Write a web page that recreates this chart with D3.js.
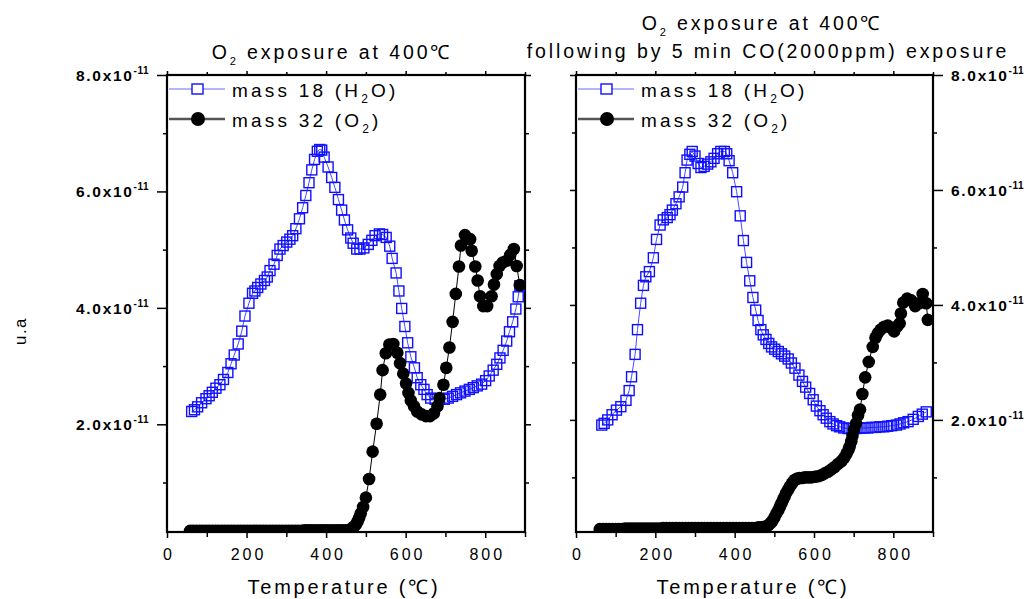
<!DOCTYPE html>
<html><head><meta charset="utf-8">
<script src="https://cdn.jsdelivr.net/npm/d3@7"></script>
<style>
body{margin:0;background:#fff}
svg{display:block}
text{font-family:"Liberation Sans",Arial,Helvetica,sans-serif;fill:#000}
</style>
</head><body>
<svg id="c" width="1030" height="599"></svg>
<script>
// ---------- data (values in units of 1e-11) ----------
const xTickValues = [0, 200, 400, 600, 800];
const xMinorValues = [100, 300, 500, 700, 900];
const yTickValues = [2, 4, 6, 8];
const yMinorValues = [1, 3, 5, 7];
const yTickLabel = "x10";
const yTickExp = "-11";

const leftH2O = [[62,2.22],[69,2.25],[77,2.30],[87,2.37],[98,2.44],[106,2.49],[114,2.55],[123,2.62],[133,2.68],[142,2.77],[153,2.89],[161,3.04],[169,3.19],[179,3.38],[188,3.60],[196,3.86],[206,4.08],[215,4.25],[221,4.29],[228,4.35],[236,4.41],[245,4.47],[252,4.53],[259,4.64],[269,4.75],[277,4.90],[284,5.01],[292,5.07],[301,5.13],[309,5.18],[316,5.24],[324,5.36],[333,5.53],[341,5.72],[349,5.93],[357,6.15],[364,6.37],[371,6.55],[378,6.69],[384,6.72],[389,6.71],[395,6.59],[405,6.42],[414,6.24],[422,6.07],[431,5.86],[439,5.68],[446,5.51],[454,5.34],[462,5.20],[468,5.11],[477,5.01],[485,5.01],[495,5.03],[506,5.09],[515,5.16],[523,5.24],[534,5.27],[542,5.26],[551,5.21],[560,5.06],[566,4.85],[576,4.60],[583,4.29],[590,3.99],[598,3.68],[605,3.40],[613,3.16],[622,2.97],[629,2.80],[638,2.68],[646,2.60],[654,2.51],[663,2.45],[674,2.43],[685,2.43],[697,2.43],[707,2.45],[718,2.48],[728,2.51],[738,2.54],[749,2.57],[760,2.60],[770,2.63],[780,2.66],[791,2.69],[801,2.75],[810,2.83],[820,2.93],[829,3.03],[837,3.14],[845,3.27],[854,3.43],[861,3.59],[869,3.76],[877,3.98],[883,4.19],[887,4.38]];

const leftO2 = [[58,0.17],[66,0.17],[74,0.17],[82,0.17],[90,0.17],[98,0.17],[106,0.17],[114,0.17],[122,0.17],[130,0.17],[138,0.17],[146,0.17],[154,0.17],[162,0.17],[170,0.17],[178,0.17],[186,0.17],[194,0.17],[202,0.17],[210,0.17],[218,0.17],[226,0.17],[234,0.17],[242,0.17],[250,0.17],[258,0.17],[266,0.17],[274,0.17],[282,0.17],[290,0.17],[298,0.17],[306,0.17],[314,0.17],[322,0.17],[330,0.17],[338,0.17],[346,0.18],[354,0.18],[362,0.18],[370,0.18],[378,0.18],[386,0.18],[394,0.18],[402,0.18],[410,0.18],[418,0.18],[426,0.18],[434,0.18],[442,0.18],[450,0.18],[456,0.18],[460,0.19],[465,0.21],[470,0.24],[475,0.28],[479,0.33],[483,0.39],[487,0.47],[493,0.58],[500,0.74],[508,1.06],[517,1.53],[527,2.01],[536,2.51],[542,2.93],[550,3.22],[559,3.37],[569,3.38],[579,3.23],[586,3.05],[594,2.87],[601,2.70],[607,2.54],[613,2.41],[621,2.31],[629,2.22],[640,2.17],[651,2.14],[661,2.14],[671,2.19],[680,2.31],[685,2.45],[695,2.68],[702,2.97],[710,3.32],[718,3.76],[726,4.24],[734,4.71],[739,5.07],[749,5.25],[762,5.18],[766,4.98],[775,4.71],[781,4.47],[787,4.20],[795,4.03],[805,4.03],[816,4.20],[822,4.40],[829,4.58],[836,4.72],[844,4.78],[854,4.81],[863,4.91],[872,5.01],[879,4.72],[887,4.39]];

const rightH2O = [[65,1.91],[71,1.94],[80,2.00],[91,2.09],[102,2.17],[113,2.23],[126,2.34],[134,2.51],[140,2.75],[149,3.14],[155,3.57],[163,4.03],[170,4.34],[176,4.49],[185,4.58],[195,4.82],[203,5.14],[212,5.39],[220,5.48],[230,5.52],[237,5.57],[243,5.65],[252,5.76],[260,5.88],[269,6.05],[275,6.30],[280,6.52],[287,6.62],[293,6.67],[300,6.59],[308,6.46],[315,6.39],[323,6.41],[332,6.45],[340,6.49],[348,6.55],[357,6.63],[365,6.67],[374,6.67],[380,6.63],[386,6.51],[395,6.30],[405,5.97],[414,5.55],[422,5.12],[430,4.74],[438,4.42],[446,4.13],[453,3.91],[459,3.73],[466,3.57],[472,3.48],[479,3.40],[486,3.33],[493,3.27],[501,3.23],[510,3.19],[518,3.15],[526,3.11],[535,3.06],[543,2.99],[552,2.90],[562,2.78],[571,2.67],[579,2.57],[589,2.46],[598,2.35],[606,2.24],[615,2.16],[623,2.09],[631,2.03],[640,1.97],[648,1.93],[657,1.90],[665,1.88],[675,1.86],[686,1.85],[696,1.85],[706,1.85],[716,1.86],[726,1.86],[736,1.86],[746,1.87],[756,1.87],[766,1.88],[776,1.88],[786,1.89],[796,1.90],[808,1.91],[817,1.93],[826,1.95],[837,1.97],[850,2.01],[863,2.06],[873,2.10],[883,2.14]];

const rightO2 = [[60,0.10],[68,0.10],[76,0.10],[84,0.10],[92,0.10],[100,0.10],[108,0.10],[116,0.10],[124,0.11],[132,0.11],[140,0.11],[148,0.11],[156,0.11],[164,0.11],[172,0.11],[180,0.11],[188,0.11],[196,0.11],[204,0.11],[212,0.11],[220,0.12],[228,0.12],[236,0.12],[244,0.12],[252,0.12],[260,0.12],[268,0.12],[276,0.12],[284,0.12],[292,0.12],[300,0.12],[308,0.12],[316,0.12],[324,0.12],[332,0.12],[340,0.12],[348,0.12],[356,0.12],[364,0.12],[372,0.12],[380,0.12],[388,0.12],[396,0.12],[404,0.12],[412,0.12],[420,0.12],[428,0.12],[436,0.12],[444,0.12],[452,0.12],[460,0.13],[468,0.13],[476,0.14],[481,0.15],[485,0.17],[490,0.20],[495,0.24],[500,0.30],[505,0.37],[510,0.43],[514,0.49],[518,0.55],[522,0.61],[526,0.67],[530,0.73],[535,0.79],[539,0.84],[544,0.89],[548,0.93],[552,0.96],[558,0.98],[564,0.99],[570,0.99],[577,1.00],[585,1.00],[593,1.00],[602,1.01],[610,1.02],[619,1.04],[627,1.07],[636,1.10],[644,1.14],[652,1.18],[660,1.23],[669,1.28],[676,1.34],[682,1.41],[687,1.48],[690,1.54],[694,1.63],[697,1.72],[701,1.83],[706,1.94],[711,2.08],[716,2.18],[722,2.45],[729,2.74],[738,3.01],[748,3.27],[755,3.43],[761,3.51],[768,3.57],[777,3.62],[786,3.64],[795,3.60],[802,3.54],[810,3.63],[816,3.68],[819,3.85],[825,4.04],[835,4.11],[845,4.08],[855,3.98],[865,4.03],[874,4.19],[883,4.03],[887,3.74]];

const seriesNames = ["mass 18 (H", "2", "O)"];
const seriesNames2 = ["mass 32 (O", "2", ")"];

// ---------- layout ----------
const svg = d3.select("#c");
const FONT = '"Liberation Sans",Arial,Helvetica,sans-serif';
const Y0 = 532, Y1 = 75;
const panels = [
  {x0:167, x1:525, ydom:[0.15, 8], side:"left", h2o:leftH2O, o2:leftO2,
   titles:[[["O",""],["2","sub"],[" exposure at 400℃",""]]], titleX:[332], titleY:[59],
   xTitleX:344},
  {x0:576, x1:933, ydom:[0.05, 8], side:"right", h2o:rightH2O, o2:rightO2,
   titles:[[["O",""],["2","sub"],[" exposure at 400℃",""]],
           [["following by 5 min CO(2000ppm) exposure",""]]], titleX:[762,768], titleY:[30,58],
   xTitleX:753}
];

panels.forEach((p, pi) => {
  const x = d3.scaleLinear().domain([0, 900]).range([p.x0, p.x1]);
  const y = d3.scaleLinear().domain(p.ydom).range([Y0, Y1]);
  const g = svg.append("g");
  const clipId = "clip" + pi;
  svg.append("clipPath").attr("id", clipId).append("rect")
    .attr("x", p.x0).attr("y", Y1).attr("width", p.x1 - p.x0).attr("height", Y0 - Y1);

  const styleAxis = sel => { sel.select(".domain").remove(); sel.selectAll("line").attr("stroke","#000").attr("stroke-width",1.5); };

  // x axes (bottom + top)
  g.append("g").attr("transform", `translate(0,${Y0})`)
    .call(d3.axisBottom(x).tickValues(xTickValues).tickSize(6).tickFormat(d=>d))
    .call(styleAxis)
    .call(s => s.selectAll("text").attr("font-family", FONT).attr("font-size", 16)
      .style("letter-spacing","3px").attr("dy", null).attr("y", 28).attr("dx", "1.5px"));
  g.append("g").attr("transform", `translate(0,${Y0})`)
    .call(d3.axisBottom(x).tickValues(xMinorValues).tickSize(5).tickFormat(""))
    .call(styleAxis);
  g.append("g").attr("transform", `translate(0,${Y1})`)
    .call(d3.axisTop(x).tickValues(xTickValues).tickSize(4).tickFormat(""))
    .call(styleAxis);
  g.append("g").attr("transform", `translate(0,${Y1})`)
    .call(d3.axisTop(x).tickValues(xMinorValues).tickSize(3).tickFormat(""))
    .call(styleAxis);

  // y axes (both sides, outward)
  [["left", p.x0], ["right", p.x1]].forEach(([side, xpos]) => {
    const major = p.side === side ? 10 : 6;
    const gen = side === "left" ? d3.axisLeft : d3.axisRight;
    g.append("g").attr("transform", `translate(${xpos},0)`)
      .call(gen(y).tickValues(yTickValues).tickSize(major).tickFormat(""))
      .call(styleAxis);
    g.append("g").attr("transform", `translate(${xpos},0)`)
      .call(gen(y).tickValues(yMinorValues).tickSize(4).tickFormat(""))
      .call(styleAxis);
  });

  // y tick labels
  yTickValues.forEach(v => {
    const t = g.append("text")
      .attr("y", y(v) + 6)
      .attr("font-family", FONT).attr("font-size", 15.5).attr("font-weight", "bold")
      .style("letter-spacing", "1.7px");
    if (p.side === "left") t.attr("x", p.x0 - 18).attr("text-anchor", "end");
    else t.attr("x", p.x1 + 18).attr("text-anchor", "start");
    t.append("tspan").text(v.toFixed(1) + yTickLabel);
    t.append("tspan").attr("font-size", 10).attr("dy", -7).style("letter-spacing","0.5px").text(yTickExp);
  });

  // frame
  g.append("rect").attr("x", p.x0).attr("y", Y1)
    .attr("width", p.x1 - p.x0).attr("height", Y0 - Y1)
    .attr("fill", "none").attr("stroke", "#000").attr("stroke-width", 2.2);

  // titles
  p.titles.forEach((parts, i) => {
    const t = g.append("text").attr("x", p.titleX[i]).attr("y", p.titleY[i])
      .attr("text-anchor", "middle").attr("font-family", FONT).attr("font-size", 19.5)
      .style("letter-spacing", "2.9px");
    parts.forEach(([s, kind], k) => {
      if (kind === "sub") t.append("tspan").attr("font-size", 11).attr("dy", 6).text(s);
      else t.append("tspan").attr("dy", k > 0 ? -6 : null).text(s);
    });
  });

  // x title
  g.append("text").attr("x", p.xTitleX).attr("y", 594).attr("text-anchor", "middle")
    .attr("font-family", FONT).attr("font-size", 20).style("letter-spacing", "2.8px")
    .text("Temperature (℃)");

  // series
  const line = d3.line().x(d => x(d[0])).y(d => y(d[1]));
  const data = g.append("g").attr("clip-path", `url(#${clipId})`);
  data.append("path").datum(p.h2o).attr("d", line).attr("fill", "none")
    .attr("stroke", "#4a4aff").attr("stroke-width", 1);
  data.selectAll("rect.sq").data(p.h2o).enter().append("rect").attr("class","sq")
    .attr("x", d => x(d[0]) - 5).attr("y", d => y(d[1]) - 5)
    .attr("width", 10).attr("height", 10)
    .attr("fill", "none").attr("stroke", "#1010ff").attr("stroke-width", 1.4);
  data.append("path").datum(p.o2).attr("d", line).attr("fill", "none")
    .attr("stroke", "#000").attr("stroke-width", 1);
  data.selectAll("circle").data(p.o2).enter().append("circle")
    .attr("cx", d => x(d[0])).attr("cy", d => y(d[1])).attr("r", 6.3).attr("fill", "#000");

  // legend
  const lx = p.x0;
  const lg = g.append("g");
  lg.append("line").attr("x1", lx + 2).attr("x2", lx + 58).attr("y1", 89).attr("y2", 89)
    .attr("stroke", "#6a6aff").attr("stroke-width", 1.2);
  lg.append("rect").attr("x", lx + 25).attr("y", 84).attr("width", 11).attr("height", 10)
    .attr("fill", "#fff").attr("stroke", "#1010ff").attr("stroke-width", 1.4);
  lg.append("line").attr("x1", lx + 2).attr("x2", lx + 58).attr("y1", 119).attr("y2", 119)
    .attr("stroke", "#555").attr("stroke-width", 2.5);
  lg.append("circle").attr("cx", lx + 31).attr("cy", 119).attr("r", 7).attr("fill", "#000");
  [[seriesNames, 97], [seriesNames2, 127]].forEach(([parts, yy]) => {
    const t = lg.append("text").attr("x", lx + 65).attr("y", yy)
      .attr("font-family", FONT).attr("font-size", 19).style("letter-spacing", "3.2px");
    t.append("tspan").text(parts[0]);
    t.append("tspan").attr("font-size", 12).attr("dy", 6).text(parts[1]);
    t.append("tspan").attr("dy", -6).text(parts[2]);
  });
});

// y axis title
svg.append("text").attr("transform", "translate(26,331) rotate(-90)")
  .attr("text-anchor", "middle").attr("font-family", FONT).attr("font-size", 17)
  .style("letter-spacing", "1.5px").text("u.a");
</script>
</body></html>
